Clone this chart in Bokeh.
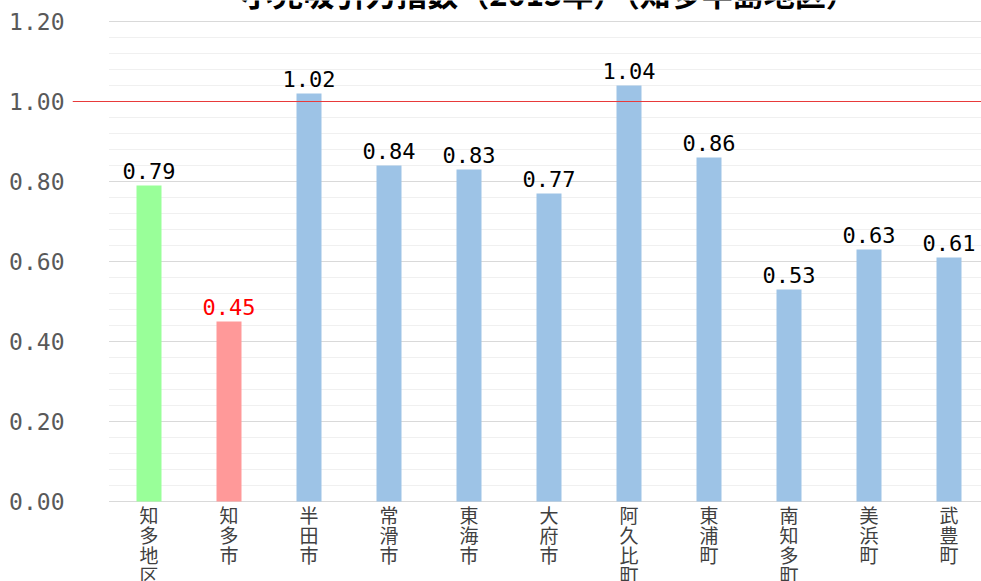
from bokeh.plotting import figure
from bokeh.models import FixedTicker, Span, Label, ColumnDataSource
from bokeh.core.properties import value
from bokeh.embed import file_html
from bokeh.resources import INLINE

title_text = "小売吸引力指数（2015年）（知多半島地区）"
categories = ["知多地区", "知多市", "半田市", "常滑市", "東海市", "大府市",
              "阿久比町", "東浦町", "南知多町", "美浜町", "武豊町"]
values = [0.79, 0.45, 1.02, 0.84, 0.83, 0.77, 1.04, 0.86, 0.53, 0.63, 0.61]
bar_colors = ["#99ff99", "#ff9999"] + ["#9dc3e6"] * 9
label_colors = ["#000000", "#ff0000"] + ["#000000"] * 9
y_ticks = [0.0, 0.2, 0.4, 0.6, 0.8, 1.0, 1.2]
y_tick_labels = ["0.00", "0.20", "0.40", "0.60", "0.80", "1.00", "1.20"]
minor_ticks = [0.04, 0.08, 0.12, 0.16, 0.24, 0.28, 0.32, 0.36, 0.44, 0.48, 0.52, 0.56,
               0.64, 0.68, 0.72, 0.76, 0.84, 0.88, 0.92, 0.96, 1.04, 1.08, 1.12, 1.16]
reference_level = 1.0

x = list(range(len(categories)))
x_start, x_end = -0.95625, 10.40625

p = figure(width=981, height=581, output_backend="svg", toolbar_location=None,
           x_range=(x_start, x_end), y_range=(-0.2, 1.2525),
           min_border_left=72, min_border_right=0, min_border_top=0, min_border_bottom=0,
           background_fill_color="white", border_fill_color="white")
p.outline_line_color = None
p.xgrid.visible = False
p.ygrid.visible = False
p.xaxis.visible = False

# gridlines (start at the first category band's left edge)
p.segment(x0=[-0.5] * len(minor_ticks), x1=[x_end] * len(minor_ticks),
          y0=minor_ticks, y1=minor_ticks, line_color="#f0f0f0", line_width=1)
p.segment(x0=[-0.5] * len(y_ticks), x1=[x_end] * len(y_ticks),
          y0=y_ticks, y1=y_ticks, line_color="#d9d9d9", line_width=1)

src = ColumnDataSource(dict(x=x, top=values, color=bar_colors, lc=label_colors,
                            txt=["%.2f" % v for v in values]))
p.vbar(x="x", top="top", width=0.3125, fill_color="color", line_color=None, source=src)
p.text(x="x", y="top", text="txt", text_color="lc", text_align="center",
       text_baseline="bottom", y_offset=-7, text_font=value("DejaVu Sans Mono"),
       text_font_size="22px", source=src)

# category labels, written vertically (one character per row) under the axis
max_len = max(len(c) for c in categories)
for j in range(max_len):
    xs = [i for i, c in zip(x, categories) if len(c) > j]
    chars = [c[j] for c in categories if len(c) > j]
    p.text(x=xs, y=[0] * len(xs), text=chars, text_align="center", text_baseline="top",
           y_offset=-1 + 20 * j, text_font=value("Noto Sans CJK JP"),
           text_font_size="19px", text_color="#404040")

p.add_layout(Span(location=reference_level, dimension="width",
                  line_color="#e83a3a", line_width=1))

p.add_layout(Label(x=5.0, y=1.2725, text=title_text, text_align="center",
                   text_baseline="alphabetic", text_font="Noto Sans CJK JP",
                   text_font_style="bold", text_font_size="31px", text_color="#000000"))

# y axis
p.yaxis.ticker = FixedTicker(ticks=y_ticks)
p.yaxis.major_label_overrides = {t: l for t, l in zip(y_ticks, y_tick_labels)}
p.yaxis.axis_line_color = None
p.yaxis.major_tick_line_color = None
p.yaxis.minor_tick_line_color = None
p.yaxis.major_label_standoff = 2
p.yaxis.major_label_text_font = "DejaVu Sans Mono"
p.yaxis.major_label_text_font_size = "23px"
p.yaxis.major_label_text_color = "#595959"

open("out.html", "w").write(file_html(p, INLINE))
